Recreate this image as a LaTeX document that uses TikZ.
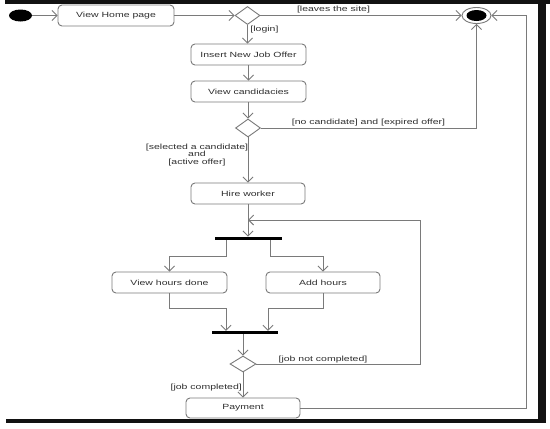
\documentclass[tikz,border=0pt]{standalone}
\usepackage{fontspec}
\setmainfont{Liberation Sans}[FakeStretch=1.4]
\usetikzlibrary{shapes.geometric,arrows.meta}
\definecolor{ln}{HTML}{7A7A7A}
\definecolor{tx}{HTML}{303030}
\tikzset{
  act/.style={draw=ln, line width=0.9pt, rounded corners=4pt, minimum width=115pt, minimum height=21pt, inner sep=0pt, text=tx, font=\fontsize{7.5}{9}\selectfont},
  dec/.style={draw=ln, line width=0.9pt, diamond, minimum width=25pt, minimum height=18pt, inner sep=0pt, fill=white},
  bar/.style={fill=black, rectangle, minimum width=67pt, minimum height=3.5pt, inner sep=0pt},
  arr/.style={draw=ln, line width=0.9pt, -{Straight Barb[length=5pt,width=10pt]}},
  lbl/.style={text=tx, inner sep=0pt, font=\fontsize{7.5}{9}\selectfont},
  frame/.style={fill=black!93}
}
\begin{document}
\begin{tikzpicture}[x=1pt,y=-1pt]
\useasboundingbox (0,0) rectangle (550,429);
\fill[white] (0,0) rectangle (550,429);
% frame bars
\fill[frame] (5,0) rectangle (550,4);
\fill[frame] (538,0) rectangle (546,423);
\fill[frame] (6,419) rectangle (546,423);
% nodes
\node[ellipse, fill=black, minimum width=23pt, minimum height=12pt, inner sep=0pt] (start) at (20.5,15.5) {};
\node[act, minimum width=116pt] (home) at (116,15.5) {View Home page};
\node[dec] (d1) at (247.5,15.5) {};
\node[ellipse, draw=ln, line width=0.9pt, minimum width=29pt, minimum height=16pt, inner sep=0pt] (final) at (476.5,15.5) {};
\node[ellipse, fill=black, minimum width=20pt, minimum height=11pt, inner sep=0pt] (finalin) at (476.5,15.5) {};
\node[act] (insert) at (248.5,54.5) {Insert New Job Offer};
\node[act] (cand) at (248.5,91.5) {View candidacies};
\node[dec] (d2) at (248,128) {};
\node[act, minimum width=114pt] (hire) at (248,193.5) {Hire worker};
\node[bar] (fork) at (248.5,238.5) {};
\node[act] (vhd) at (169.5,282.5) {View hours done};
\node[act, minimum width=114pt] (add) at (323,282.5) {Add hours};
\node[bar, minimum width=66pt] (join) at (245,332.5) {};
\node[dec, minimum width=26pt, minimum height=16pt] (d3) at (243,364) {};
\node[act, minimum width=114pt, minimum height=20pt] (pay) at (243,408) {Payment};
% coordinates
\coordinate (fl) at (226,240.3);
\coordinate (fr) at (270,240.3);
\coordinate (jl) at (226,330.8);
\coordinate (jr) at (268,330.8);
\coordinate (loopc) at (420,220);
\coordinate (loopj) at (248,220);
\coordinate (rc) at (526,15.5);
% labels
\node[lbl] (lleave) at (333.5,10) {[leaves the site]};
\node[lbl] (llogin) at (264.5,29.5) {[login]};
\node[lbl] (lnocand) at (368.5,122.5) {[no candidate] and [expired offer]};
\node[lbl, align=center] (lsel) at (197,155) {[selected a candidate]\\[-1.2pt]and\\[-1.2pt][active offer]};
\node[lbl] (ljnc) at (323,359.5) {[job not completed]};
\node[lbl, anchor=east] (ljc) at (242,388) {[job completed]};
% connectors
\draw[arr] (start) -- (home.west);
\draw[arr] (home.east) -- (d1.west);
\draw[arr] (d1.east) -- (final.west);
\draw[arr] (d1.south) -- (d1.south |- insert.north);
\draw[arr] (insert.south) -- (insert.south |- cand.north);
\draw[arr] (cand.south) -- (cand.south -| d2.north) -- (d2.north);
\draw[arr] (d2.east) -| (final.south);
\draw[arr] (d2.south) -- (hire.north);
\draw[arr] (hire.south) -- (hire.south |- fork.north);
\draw[arr] (fl) -- ++(0,15.7) -| (vhd.north);
\draw[arr] (fr) -- ++(0,15.7) -| (add.north);
\draw[arr] (vhd.south) -- ++(0,15) -| (jl);
\draw[arr] (add.south) -- ++(0,15) -| (jr);
\draw[arr] (join.south -| d3.north) -- (d3.north);
\draw[arr] (d3.east) -| (loopc) -- (loopj);
\draw[arr] (d3.south) -- (pay.north);
\draw[arr] (pay.east) -| (rc) -- (final.east);
\end{tikzpicture}
\end{document}
